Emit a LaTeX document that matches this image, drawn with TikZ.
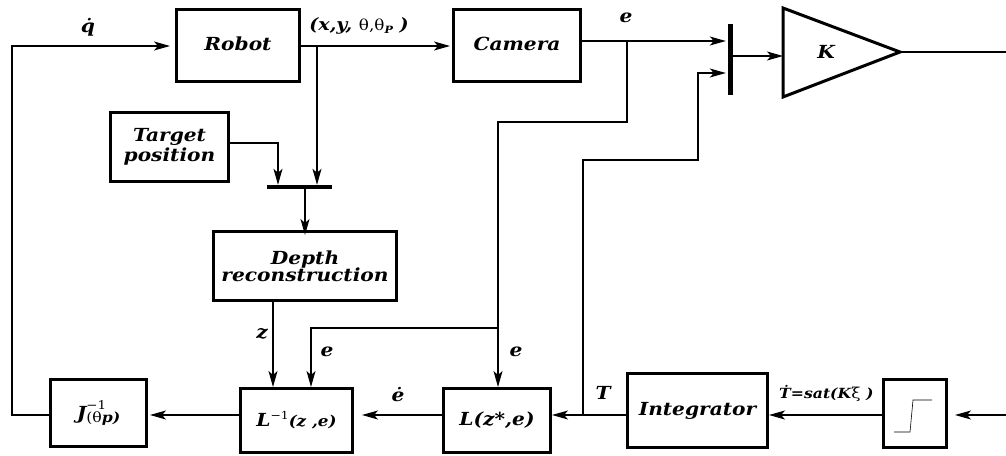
\documentclass[tikz,border=0pt]{standalone}
\usepackage{fontspec}
\setmainfont{DejaVu Serif}[FakeStretch=1.12]
\usetikzlibrary{arrows.meta}
\newcommand\rgf{\normalfont\fontsize{15}{18}\selectfont}
\begin{document}
\begin{tikzpicture}[x=1pt,y=-1pt,
  blk/.style={draw, line width=3pt, inner sep=0pt, align=center,
    font=\bfseries\itshape\fontsize{18}{21}\selectfont},
  bar/.style={fill=black, inner sep=0pt},
  arr/.style={-{Stealth[length=16pt,width=9pt,inset=4pt]}, line width=1.1pt},
  ln/.style={line width=1.1pt},
  lbl/.style={inner sep=0pt, font=\bfseries\itshape\fontsize{18}{20}\selectfont}]
\useasboundingbox (0,0) rectangle (1006,455);
% blocks
\node[blk, minimum width=123, minimum height=72] (robot) at (238,45.5) {\raisebox{4pt}{Robot}};
\node[blk, minimum width=127, minimum height=72] (camera) at (517,45.5) {\raisebox{4pt}{Camera}};
\node[blk, minimum width=118, minimum height=69] (target) at (169.5,147) {Target\\[-1pt]position};
\node[blk, minimum width=183, minimum height=69] (depth) at (305,266) {Depth\\[-4pt]reconstruction};
\node[blk, minimum width=96, minimum height=67] (jinv) at (98.5,413) {J\rlap{\raisebox{10pt}{\normalfont\fontsize{12}{12}\selectfont −1}}\raisebox{-3pt}{\normalfont\fontsize{14}{14}\selectfont(θ\bfseries\itshape p)}};
\node[blk, minimum width=112, minimum height=64] (linv) at (296.5,420.5) {L\raisebox{7pt}{\normalfont\fontsize{11}{11}\selectfont −1}{\fontsize{15}{15}\selectfont(z ,e)}};
\node[blk, minimum width=107, minimum height=64] (lz) at (497,420.5) {L(z*,e)};
\node[blk, minimum width=140, minimum height=74] (integ) at (697.5,410.5) {Integrator};
\node[blk, minimum width=63, minimum height=68] (sat) at (915,413.5) {};
\draw[line width=0.6pt] (894,432) -- (910,432) -- (913,400) -- (932,400);
% bars
\node[bar, minimum width=65, minimum height=4] (sum1) at (299.5,187) {};
\node[bar, minimum width=5, minimum height=71] (sum2) at (730.5,59.5) {};
% gain
\draw[line width=3pt, line join=miter] (783,8) -- (900,52) -- (783,97) -- cycle;
\node[lbl] (K) at (826,52) {K};
\coordinate (kin) at (783,56);
\coordinate (kout) at (900,52);
% connector points
\coordinate (qL) at (12,415);
\coordinate (qT) at (12,46);
\coordinate (pb) at (317,46);
\coordinate (tg) at (278,143);
\coordinate (eb) at (627,41);
\coordinate (e1) at (627,122);
\coordinate (e2) at (498,122);
\coordinate (e3) at (498,328);
\coordinate (e4) at (311,328);
\coordinate (tb) at (583,415);
\coordinate (t1) at (583,160);
\coordinate (t2) at (698,160);
\coordinate (t3) at (698,73);
\coordinate (rin) at (1006,415);
\coordinate (rout) at (1006,52);
\coordinate (zx) at (273,0);
% connectors
\draw[arr] (jinv.west |- qL) -- (qL) -- (qT) -- ([xshift=-5pt]robot.west |- qT);
\draw[arr] (robot.east |- pb) -- ([xshift=-2pt]camera.west |- pb);
\draw[arr] (pb) -- (pb |- sum1.north);
\draw[arr] (target.east |- tg) -- (tg) -- (tg |- sum1.north);
\draw[arr] (sum1.south -| depth.north) -- ([yshift=-5pt]depth.north);
\draw[arr] (depth.south -| zx) -- (linv.north -| zx);
\draw[arr] (camera.east |- eb) -- ([xshift=-2pt]sum2.west |- eb);
\draw[ln] (eb) -- (e1) -- (e2) -- (e3);
\draw[arr] (e3) -- (e3 |- lz.north);
\draw[arr] (e3) -- (e4) -- (e4 |- linv.north);
\draw[arr] (sum2.east |- kin) -- (kin);
\draw[ln] (kout) -- (rout);
\draw[arr] (rin) -- ([xshift=7pt]sat.east |- rin);
\draw[arr] (sat.west |- rin) -- (integ.east |- rin);
\draw[arr] (integ.west |- tb) -- (lz.east |- tb);
\draw[arr] (tb) -- (t1) -- (t2) -- (t3) -- ([xshift=-2pt]sum2.west |- t3);
\draw[arr] (lz.west |- tb) -- ([xshift=8pt]linv.east |- tb);
\draw[arr] (linv.west |- tb) -- ([xshift=2pt]jinv.east |- tb);
% labels
\node[lbl] (lq) at (88,27) {\.{q}};
\node[lbl, font=\bfseries\itshape\fontsize{17}{20}\selectfont] (lpose) at (359,26) {(x,y, {\rgf θ,θ}\raisebox{-3pt}{\fontsize{10}{10}\selectfont P} )};
\node[lbl] (le1) at (626,18) {e};
\node[lbl] (lz1) at (262,334) {z};
\node[lbl] (le2) at (327,352) {e};
\node[lbl] (le3) at (516,352) {e};
\node[lbl] (led) at (398,395) {\.{e}};
\node[lbl] (lT) at (603,393) {T};
\node[lbl, anchor=west, font=\bfseries\itshape\fontsize{14}{16}\selectfont] (lsat) at (779,393) {\.{T}=sat(K{\rgf ξ} )};
\end{tikzpicture}
\end{document}
